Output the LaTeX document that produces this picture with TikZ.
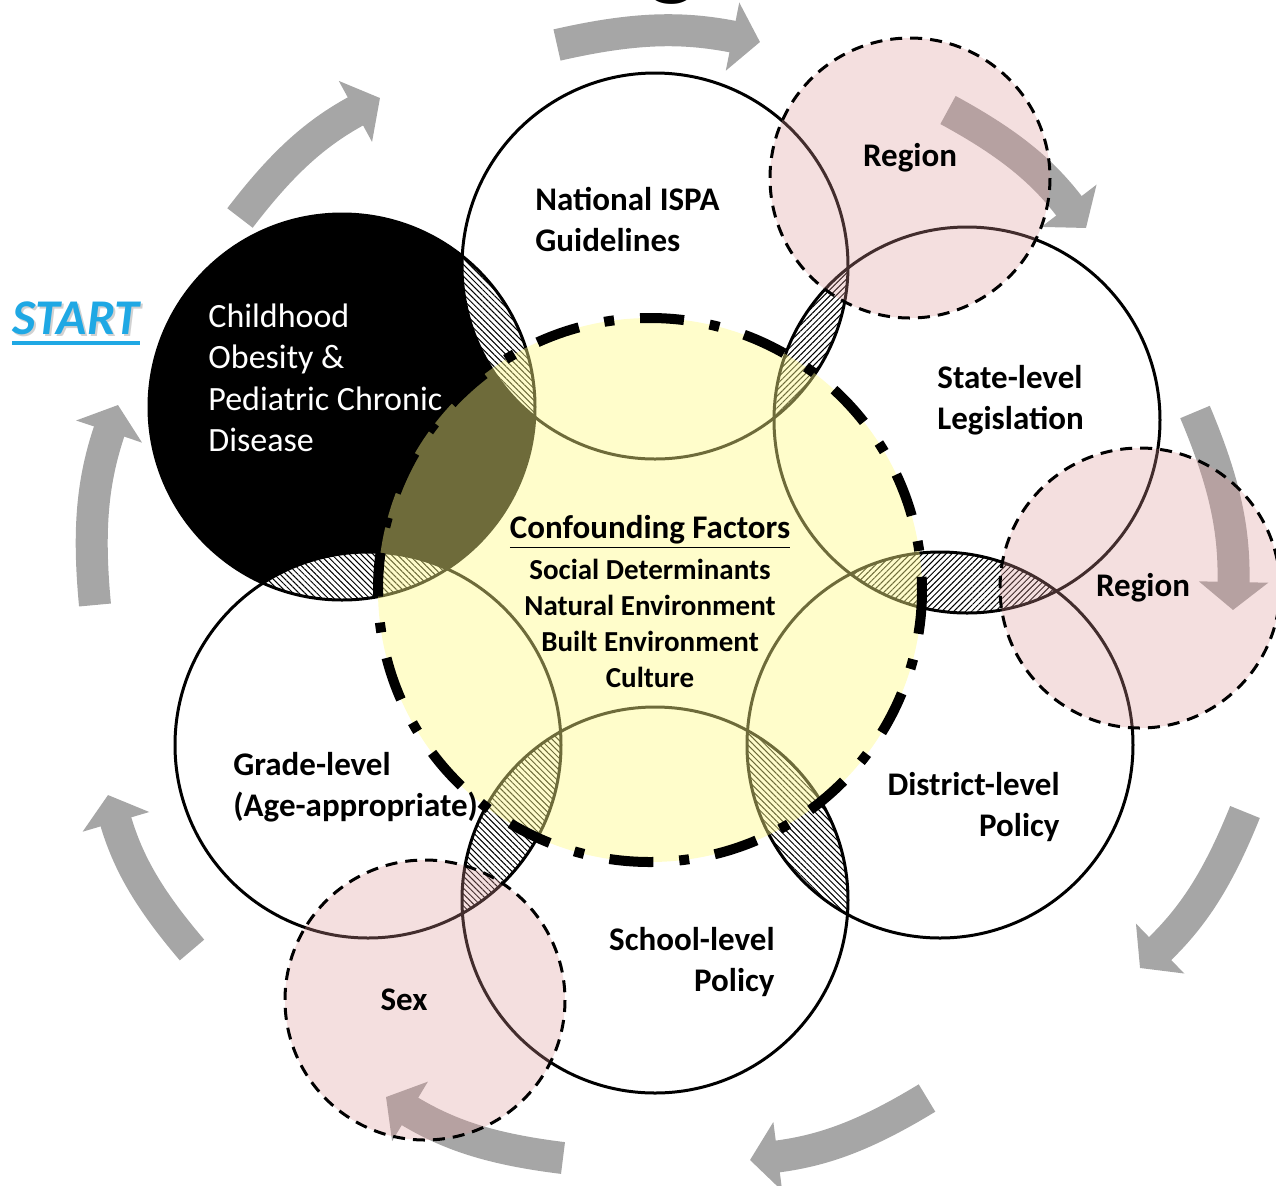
\documentclass[tikz,border=0pt]{standalone}
\usepackage{fontspec}
\setmainfont{Carlito}
\usetikzlibrary{arrows.meta,patterns.meta}
\definecolor{flowgrey}{RGB}{166,166,166}
\definecolor{confyellow}{RGB}{255,250,135}
\definecolor{modpink}{RGB}{220,150,150}
\definecolor{startblue}{RGB}{31,168,228}

\begin{document}
\begin{tikzpicture}[x=0.5pt,y=-0.5pt,
  flow/.style={draw=flowgrey, line width=16pt, -{Triangle[width=34pt,length=14pt]}},
  ring/.style={draw=black, line width=1.5pt},
  modring/.style={draw=black, line width=1.5pt, dash pattern=on 6pt off 4pt},
  lens/.style={pattern={Lines[angle=#1,distance=2.1pt,line width=0.5pt]}},
  lbl/.style={font=\fontsize{16.5}{20.5}\selectfont\bfseries, inner sep=0pt},
  sublbl/.style={font=\fontsize{14.5}{18}\selectfont\bfseries, inner sep=0pt, align=center},
  startfont/.style={font=\fontsize{25}{25}\selectfont\bfseries\itshape, inner sep=0pt},
]
\useasboundingbox (0,0) rectangle (1276,1185);

% centres of the six stage circles, the core and the modifiers
\coordinate (cB) at (342,407);
\coordinate (cN) at (655,266);
\coordinate (cS) at (967,420);
\coordinate (cD) at (940,745);
\coordinate (cC) at (655,900);
\coordinate (cG) at (368,745);
\coordinate (cY) at (650,590);
\coordinate (cR1) at (910,178);
\coordinate (cR2) at (1140,588);
\coordinate (cX) at (425,1000);

% heading fragment
\node[font=\fontsize{55}{55}\selectfont, anchor=base, inner sep=0pt] (title) at (672,-15) {g};

% flow arrows round the cycle
\coordinate (a1s) at (557,45);   \coordinate (a1e) at (760,42);
\coordinate (a2s) at (948,110);  \coordinate (a2e) at (1086,228);
\coordinate (a3s) at (1195,412); \coordinate (a3e) at (1233,610);
\coordinate (a4s) at (1245,812); \coordinate (a4e) at (1140,968);
\coordinate (a5s) at (927,1098); \coordinate (a5e) at (750,1160);
\coordinate (a6s) at (563,1158); \coordinate (a6e) at (386,1097);
\coordinate (a7s) at (192,950);  \coordinate (a7e) at (108,795);
\coordinate (a8s) at (95,605);   \coordinate (a8e) at (118,405);
\coordinate (a9s) at (240,218);  \coordinate (a9e) at (380,98);
\foreach \k in {1,...,9} {
  \draw[flow] (a\k s) to[bend left=12] (a\k e);
}

% black starting circle
\fill[black] (cB) circle[radius=193];

% hatched overlaps of neighbouring stages
\begin{scope}
  \clip (cB) circle[radius=193];
  \fill[white] (cN) circle[radius=193];
  \fill[lens=-45] (cN) circle[radius=193];
\end{scope}
\begin{scope}
  \clip (cN) circle[radius=193];
  \fill[white] (cS) circle[radius=193];
  \fill[lens=45] (cS) circle[radius=193];
\end{scope}
\begin{scope}
  \clip (cS) circle[radius=193];
  \fill[white] (cD) circle[radius=193];
  \fill[lens=45] (cD) circle[radius=193];
\end{scope}
\begin{scope}
  \clip (cD) circle[radius=193];
  \fill[white] (cC) circle[radius=193];
  \fill[lens=-45] (cC) circle[radius=193];
\end{scope}
\begin{scope}
  \clip (cC) circle[radius=193];
  \fill[white] (cG) circle[radius=193];
  \fill[lens=-45] (cG) circle[radius=193];
\end{scope}
\begin{scope}
  \clip (cG) circle[radius=193];
  \fill[white] (cB) circle[radius=193];
  \fill[lens=-45] (cB) circle[radius=193];
\end{scope}

% stage outlines
\foreach \c in {cB,cN,cS,cD,cC,cG} {
  \draw[ring] (\c) circle[radius=193];
}

% confounding factors core
\fill[confyellow, fill opacity=0.43] (cY) circle[radius=272];
\draw[line width=5pt, dash pattern=on 22pt off 13pt on 5pt off 13pt] (cY) circle[radius=272];

% modifier circles
\foreach \c in {cR1,cR2,cX} {
  \fill[modpink, fill opacity=0.3] (\c) circle[radius=140];
  \draw[modring] (\c) circle[radius=140];
}

% start label with soft shadow and underline
\node[startfont, text=black!18] (startsh) at (78,320) {START};
\node[startfont, text=startblue] (start) at (76,318) {START};
\draw[startblue, line width=2pt] (start.south west) ++(0,8) coordinate (ul1) -- (start.south east |- ul1);

% labels
\node[font=\fontsize{17}{20.75}\selectfont, text=white, align=left, anchor=west, inner sep=0pt] (obesity) at (208,378)
  {Childhood\\Obesity \&\\Pediatric Chronic\\Disease};
\node[lbl, align=left, anchor=west] (national) at (535,220) {National ISPA\\Guidelines};
\node[lbl, align=left, anchor=west] (state) at (937,400) {State-level\\Legislation};
\node[lbl, align=right, anchor=east] (district) at (1060,807) {District-level\\Policy};
\node[lbl, align=right, anchor=east] (school) at (775,962) {School-level\\Policy};
\node[lbl, align=left, anchor=west] (grade) at (233,787) {Grade-level\\(Age-appropriate)};
\node[lbl] (region1) at (910,158) {Region};
\node[lbl] (region2) at (1143,588) {Region};
\node[lbl] (sex) at (404,1000) {Sex};

\node[font=\fontsize{16.5}{20}\selectfont\bfseries, inner sep=0pt] (conf) at (650,532) {\underline{Confounding Factors}};
\node[sublbl] (factors) at (650,623)
  {Social Determinants\\Natural Environment\\Built Environment\\Culture};
\end{tikzpicture}
\end{document}
